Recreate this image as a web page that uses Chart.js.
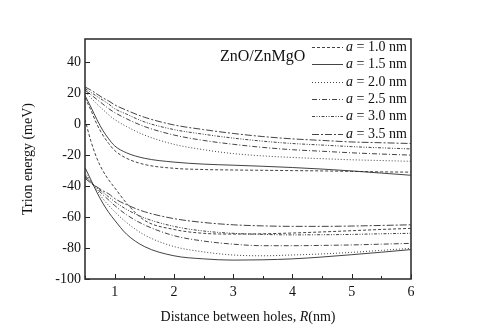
<!DOCTYPE html>
<html>
<head>
<meta charset="utf-8">
<script src="https://cdn.jsdelivr.net/npm/chart.js@4"></script>
<style>
  body { margin: 0; background: #fff; }
  canvas { display: block; }
</style>
</head>
<body>
<canvas id="chart" width="477" height="336"></canvas>
<script>
// distance between holes R (nm)
var distances = [0.5, 0.6, 0.7, 0.8, 0.9, 1.0, 1.2, 1.5, 2.0, 2.5, 3.0, 3.5, 4.0, 4.5, 5.0, 5.5, 6.0];
var wellWidths = ['1.0', '1.5', '2.0', '2.5', '3.0', '3.5'];

// upper branch (meV)
var upper10 = [17, 9, 0, -7, -12.5, -17, -22, -26, -28.5, -29.3, -29.6, -29.8, -30, -30.2, -30.5, -30.8, -31];
var upper15 = [18.5, 11, 3, -4, -9.5, -14, -18.5, -22, -24.5, -25.8, -26.5, -27.2, -28, -29, -30.2, -31.6, -33];
var upper20 = [21, 17, 13, 9.5, 6, 3, -1.5, -7, -13, -16.5, -19, -20.5, -21.5, -22.3, -23, -23.5, -24];
var upper25 = [22, 19, 16, 13, 10, 7.5, 3.5, -1.5, -7, -10.5, -13, -15, -16.5, -17.5, -18.5, -19.3, -20];
var upper30 = [23, 20.5, 18, 15.5, 13, 10, 6.5, 1.5, -3.5, -6.5, -9, -11, -12.5, -13.5, -14.5, -15.3, -16];
var upper35 = [24, 22, 19.5, 17, 15, 12.5, 9, 4.5, -0.5, -3.5, -6, -8, -9.5, -10.5, -11.5, -12, -12.5];

// lower branch (meV)
var lower10 = [3, -11, -22, -30, -36, -41, -51, -62, -68, -70.5, -71, -70.8, -70.3, -69.6, -68.8, -68, -67.3];
var lower15 = [-28, -36, -44, -51, -57, -62, -71, -79, -85, -87, -87.8, -87.6, -87, -85.8, -84.3, -82.7, -81];
var lower20 = [-31, -37, -42.5, -48, -52.5, -56.5, -63.5, -71.5, -79, -82.5, -84.5, -85, -84.5, -83.8, -82.8, -81.5, -80.2];
var lower25 = [-33, -37.5, -41.5, -45.5, -49, -52.5, -58.5, -65, -72, -75.5, -77.5, -78.5, -78.5, -78.3, -78, -77.5, -77];
var lower30 = [-34, -37.5, -41, -44, -47, -50, -55, -60.5, -66, -69, -70.5, -71.2, -71.5, -71.4, -71.2, -70.8, -70.5];
var lower35 = [-35, -38, -40.5, -43, -45, -48, -52, -56.5, -61, -63.5, -65, -65.7, -66, -66, -65.8, -65.4, -65];

var upperSeries = [upper10, upper15, upper20, upper25, upper30, upper35];
var lowerSeries = [lower10, lower15, lower20, lower25, lower30, lower35];

var yTickLabels = [-100, -80, -60, -40, -20, 0, 20, 40];
var xTickLabels = [1, 2, 3, 4, 5, 6];

var dashes = [[3, 2], [], [1, 2], [5, 2, 1, 2], [3, 1.5, 1, 1.5, 1, 1.5], [7, 2, 2, 2]];
var serif = "'Liberation Serif', 'Times New Roman', serif";
var lineColor = '#2e2e2e';

function points(values) {
    return values.map(function(v, i) { return {x: distances[i], y: v}; });
}

var datasets = [];
wellWidths.forEach(function(a, i) {
    datasets.push({
        label: 'a = ' + a + ' nm',
        data: points(upperSeries[i]),
        borderColor: lineColor,
        borderWidth: 0.9,
        borderDash: dashes[i],
        pointRadius: 0,
        fill: false,
        cubicInterpolationMode: 'monotone'
    });
});
wellWidths.forEach(function(a, i) {
    datasets.push({
        label: 'a = ' + a + ' nm (lower)',
        data: points(lowerSeries[i]),
        borderColor: lineColor,
        borderWidth: 0.9,
        borderDash: dashes[i],
        pointRadius: 0,
        fill: false,
        cubicInterpolationMode: 'monotone'
    });
});

// inward ticks, frame, text box and legend
var decorations = {
    id: 'decorations',
    afterDraw: function(chart) {
        var ctx = chart.ctx;
        var area = chart.chartArea;
        var xs = chart.scales.x;
        var ys = chart.scales.y;
        ctx.save();
        ctx.strokeStyle = '#222';
        ctx.lineWidth = 1;
        ctx.setLineDash([]);
        ctx.beginPath();
        xs.ticks.forEach(function(t) {
            var px = Math.round(xs.getPixelForValue(t.value)) + 0.5;
            var len = xTickLabels.indexOf(t.value) >= 0 ? 5 : 3;
            ctx.moveTo(px, area.bottom);
            ctx.lineTo(px, area.bottom - len);
        });
        ys.ticks.forEach(function(t) {
            var py = Math.round(ys.getPixelForValue(t.value)) + 0.5;
            var len = yTickLabels.indexOf(t.value) >= 0 ? 5 : 3;
            ctx.moveTo(area.left, py);
            ctx.lineTo(area.left + len, py);
        });
        ctx.stroke();

        ctx.lineWidth = 1.6;
        ctx.strokeStyle = '#333';
        ctx.strokeRect(area.left, area.top, area.right - area.left, area.bottom - area.top);

        ctx.fillStyle = '#111';
        ctx.textBaseline = 'middle';
        ctx.textAlign = 'left';
        ctx.font = '16px ' + serif;
        ctx.fillText('ZnO/ZnMgO', 220, 57);

        // legend
        ctx.lineWidth = 0.9;
        wellWidths.forEach(function(a, i) {
            var y = Math.round(47 + i * 17.3) + 0.5;
            ctx.strokeStyle = lineColor;
            ctx.setLineDash(dashes[i]);
            ctx.beginPath();
            ctx.moveTo(312, y);
            ctx.lineTo(343, y);
            ctx.stroke();
            ctx.setLineDash([]);
            ctx.font = 'italic 14px ' + serif;
            ctx.fillText('a', 346, y);
            var w = ctx.measureText('a').width;
            ctx.font = '14px ' + serif;
            ctx.fillText(' = ' + a + ' nm', 346 + w, y);
        });

        // x axis title with italic R
        var parts = [['Distance between holes, ', ''], ['R', 'italic '], ['(nm)', '']];
        var total = 0;
        parts.forEach(function(p) {
            ctx.font = p[1] + '14px ' + serif;
            total += ctx.measureText(p[0]).width;
        });
        var x = (area.left + area.right) / 2 - total / 2;
        parts.forEach(function(p) {
            ctx.font = p[1] + '14px ' + serif;
            ctx.fillText(p[0], x, 317);
            x += ctx.measureText(p[0]).width;
        });
        ctx.restore();
    }
};

var ctx = document.getElementById('chart').getContext('2d');
var chart = new Chart(ctx, {
    type: 'line',
    data: { datasets: datasets },
    options: {
        responsive: false,
        animation: false,
        layout: { padding: { left: 0, right: 66, top: 39, bottom: 0 } },
        plugins: { legend: { display: false }, tooltip: { enabled: false } },
        scales: {
            x: {
                type: 'linear',
                min: 0.5,
                max: 6,
                grid: { display: false, drawTicks: false },
                border: { display: false },
                ticks: {
                    stepSize: 0.5,
                    includeBounds: false,
                    padding: 5,
                    color: '#111',
                    font: { family: serif, size: 14 },
                    callback: function(v) { return xTickLabels.indexOf(v) >= 0 ? String(v) : ''; }
                },
                afterFit: function(scale) { scale.height = 57; }
            },
            y: {
                min: -100,
                max: 55,
                grid: { display: false, drawTicks: false },
                border: { display: false },
                ticks: {
                    stepSize: 10,
                    includeBounds: false,
                    padding: 4,
                    color: '#111',
                    font: { family: serif, size: 14 },
                    callback: function(v) { return yTickLabels.indexOf(v) >= 0 ? String(v) : ''; }
                },
                title: {
                    display: true,
                    text: 'Trion energy (meV)',
                    color: '#111',
                    font: { family: serif, size: 14 },
                    padding: { top: 20, bottom: 0 }
                },
                afterFit: function(scale) { scale.width = 85; }
            }
        }
    },
    plugins: [decorations]
});
</script>
</body>
</html>
